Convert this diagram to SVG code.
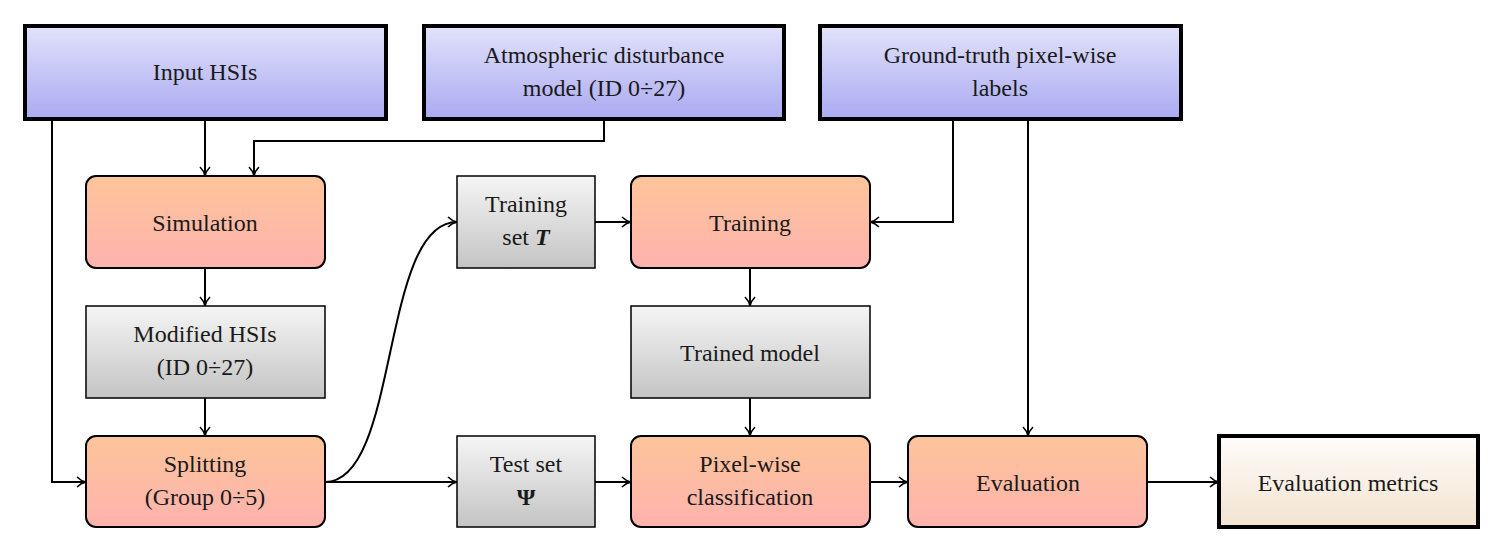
<svg xmlns="http://www.w3.org/2000/svg" width="1500" height="550" viewBox="0 0 1500 550">
<defs>
<linearGradient id="gb" x1="0" y1="0" x2="0" y2="1"><stop offset="0" stop-color="#e2e2fb"/><stop offset="1" stop-color="#aaaaf2"/></linearGradient>
<linearGradient id="go" x1="0" y1="0" x2="0" y2="1"><stop offset="0" stop-color="#fdc59a"/><stop offset="1" stop-color="#feb2ae"/></linearGradient>
<linearGradient id="gg" x1="0" y1="0" x2="0" y2="1"><stop offset="0" stop-color="#f5f5f5"/><stop offset="1" stop-color="#c4c4c4"/></linearGradient>
<linearGradient id="gc" x1="0" y1="0" x2="0" y2="1"><stop offset="0" stop-color="#fefcfa"/><stop offset="1" stop-color="#f3e3d0"/></linearGradient>
<marker id="a" viewBox="0 0 12 12" refX="11" refY="6" markerWidth="12" markerHeight="12" markerUnits="userSpaceOnUse" orient="auto"><path d="M2,1 Q6,5 11,6 Q6,7 2,11" fill="none" stroke="#000" stroke-width="1.6"/></marker>
<style>
text{font-family:"Liberation Serif","DejaVu Serif",serif;font-size:24px;text-anchor:middle;fill:#1a1a1a}
.in{fill:url(#gb);stroke:#000;stroke-width:4}
.pr{fill:url(#go);stroke:#000;stroke-width:2}
.da{fill:url(#gg);stroke:#000;stroke-width:1.5}
.ou{fill:url(#gc);stroke:#000;stroke-width:4}
#conn path{fill:none;stroke:#000;stroke-width:2;marker-end:url(#a)}
</style>
</defs>
<g id="conn">
<path d="M205,119 V176"/>
<path d="M52,119 V482 H86"/>
<path d="M604,119 V141 H254 V176"/>
<path d="M953,119 V222 H870"/>
<path d="M1028,119 V436"/>
<path d="M205,268 V306"/>
<path d="M205,398 V436"/>
<path d="M325,482 C400,482 380,222 457,222"/>
<path d="M325,482 H457"/>
<path d="M595,222 H631"/>
<path d="M750,268 V306"/>
<path d="M750,398 V436"/>
<path d="M595,482 H631"/>
<path d="M870,482 H908"/>
<path d="M1147,482 H1219"/>
</g>
<g id="input"><rect class="in" x="25" y="26" width="361" height="93"/><text x="205" y="80">Input HSIs</text></g>
<g id="atmos"><rect class="in" x="424" y="26" width="360" height="93"/><text x="604" y="63">Atmospheric disturbance</text><text x="604" y="96">model (ID 0÷27)</text></g>
<g id="gt"><rect class="in" x="820" y="26" width="361" height="93"/><text x="1000" y="63">Ground-truth pixel-wise</text><text x="1000" y="96">labels</text></g>
<g id="sim"><rect class="pr" x="86" y="176" width="239" height="92" rx="10"/><text x="205" y="231">Simulation</text></g>
<g id="mod"><rect class="da" x="86" y="306" width="239" height="92"/><text x="205" y="342">Modified HSIs</text><text x="205" y="375">(ID 0÷27)</text></g>
<g id="split"><rect class="pr" x="86" y="436" width="239" height="91" rx="10"/><text x="205" y="472">Splitting</text><text x="205" y="505">(Group 0÷5)</text></g>
<g id="trset"><rect class="da" x="457" y="176" width="138" height="92"/><text x="526" y="212">Training</text><text x="526" y="245">set <tspan font-weight="bold" font-style="italic">T</tspan></text></g>
<g id="teset"><rect class="da" x="457" y="436" width="138" height="91"/><text x="526" y="472">Test set</text><text x="526" y="505" font-weight="bold">Ψ</text></g>
<g id="train"><rect class="pr" x="631" y="176" width="239" height="92" rx="10"/><text x="750" y="231">Training</text></g>
<g id="model"><rect class="da" x="631" y="306" width="239" height="92"/><text x="750" y="361">Trained model</text></g>
<g id="pix"><rect class="pr" x="631" y="436" width="239" height="91" rx="10"/><text x="750" y="472">Pixel-wise</text><text x="750" y="505">classification</text></g>
<g id="eval"><rect class="pr" x="908" y="436" width="239" height="91" rx="10"/><text x="1028" y="491">Evaluation</text></g>
<g id="metrics"><rect class="ou" x="1219" y="436" width="259" height="91"/><text x="1348" y="491">Evaluation metrics</text></g>
</svg>
